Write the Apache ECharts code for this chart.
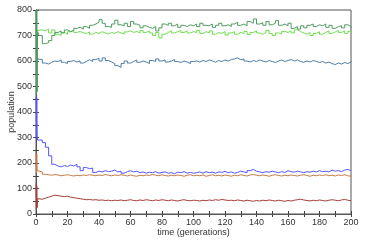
<!DOCTYPE html>
<html><head><meta charset="utf-8">
<script src="https://cdn.jsdelivr.net/npm/echarts@6/dist/echarts.min.js"></script>
<style>html,body{margin:0;padding:0;background:#fff}#c{width:374px;height:242px}</style>
</head><body><div id="c"></div>
<script>
// time points within the first generation (rapid initial oscillation)
var earlyT = [0, 0.25, 0.5, 0.75, 1];
// generations 2..200 in steps of 2 for the main traces
var gens = [];
for (var g = 2; g <= 200; g += 2) gens.push(g);

var seriesNames = ['dark green', 'light green', 'steel blue', 'blue', 'orange', 'red'];
var seriesColors = ['#4f9c62', '#6ee04e', '#4d7ea8', '#5555ff', '#c77a45', '#a83c3c'];

var earlyDarkGreen = [800, 470, 800, 480, 715];
var earlyLightGreen = [700, 710, 715, 720, 722];
var earlySteelBlue = [600, 605, 600, 608, 605];
var earlyBlue = [460, 300, 455, 310, 290];
var earlyOrange = [240, 160, 235, 170, 168];
var earlyRed = [120, 20, 110, 25, 60];

var darkGreen = [700,668,672,680,700,712,718,710,722,715,720,728,732,725,735,728,740,745,752,762,748,735,732,745,760,742,738,748,735,755,745,740,730,738,732,728,735,718,730,745,740,748,738,745,732,740,735,742,738,
745,735,748,740,738,745,732,740,748,738,742,735,745,752,740,745,738,755,748,765,745,750,740,755,742,748,758,740,745,738,748,728,735,725,738,730,740,745,735,742,738,745,732,740,728,735,738,730,742,735,728];
var lightGreen = [722,718,725,710,722,705,700,712,705,715,720,712,716,710,708,714,705,712,708,715,710,706,712,708,715,710,705,714,718,712,716,710,720,712,718,710,700,712,690,705,712,718,710,715,720,712,718,710,715,
712,720,708,715,710,718,705,712,708,715,702,710,715,705,712,708,716,704,712,718,710,705,712,720,708,700,710,706,716,712,718,710,722,715,710,705,712,700,708,715,705,712,718,708,714,720,712,718,708,716,710];
var steelBlue = [605,592,588,595,600,598,604,595,590,598,602,596,600,592,598,605,598,606,610,600,612,602,596,590,582,575,590,600,592,598,604,595,600,596,590,602,598,608,600,604,596,600,606,598,594,600,596,590,598,
600,596,602,598,604,600,595,602,598,604,600,606,608,612,605,608,600,596,602,598,604,600,596,602,598,594,600,604,598,602,606,600,604,598,595,600,596,602,598,594,598,592,596,590,586,592,588,594,590,596,600];
var blue = [290,280,262,228,195,188,185,190,186,192,188,195,185,170,182,178,180,163,168,165,170,166,168,172,165,168,160,166,170,165,168,162,165,160,164,162,166,160,163,165,160,162,158,164,162,166,160,163,160,
162,165,160,166,162,164,160,165,163,167,162,165,160,163,168,165,162,170,175,168,165,162,166,164,168,165,162,166,163,170,166,164,168,165,162,166,164,168,165,170,166,168,165,172,168,170,166,172,175,170,168];
var orange = [165,156,154,152,155,153,150,152,154,151,149,152,150,153,151,154,152,150,153,151,155,152,150,153,151,154,152,149,153,150,148,152,150,153,151,155,152,150,154,151,149,152,150,153,151,148,152,154,150,
152,150,153,148,151,154,150,152,149,153,151,148,152,150,154,151,149,153,155,152,150,153,151,148,152,154,151,149,152,150,153,151,149,152,154,151,148,152,150,153,151,154,150,152,149,153,151,154,150,148,151];
var red = [58,62,66,70,74,72,70,68,70,66,64,62,60,58,56,57,55,56,54,55,53,54,52,54,53,55,52,54,56,53,52,55,53,56,54,52,55,53,56,54,52,55,53,51,54,56,53,52,54,
53,51,54,52,55,53,56,54,57,55,53,54,52,55,53,51,54,52,50,53,51,54,52,55,53,51,54,52,50,53,51,54,56,58,55,53,51,54,52,55,53,51,54,56,54,52,55,57,54,52,53];

var xTicks = [0, 20, 40, 60, 80, 100, 120, 140, 160, 180, 200];
var yTicks = [0, 100, 200, 300, 400, 500, 600, 700, 800];

function pairs(early, main) {
  var out = [];
  for (var i = 0; i < earlyT.length; i++) out.push([earlyT[i], early[i]]);
  for (var j = 0; j < gens.length; j++) out.push([gens[j], main[j]]);
  return out;
}
var allEarly = [earlyDarkGreen, earlyLightGreen, earlySteelBlue, earlyBlue, earlyOrange, earlyRed];
var allMain = [darkGreen, lightGreen, steelBlue, blue, orange, red];

var font = 'Liberation Sans';
var chart = echarts.init(document.getElementById('c'), null, {renderer: 'canvas'});
var tickStyle = {inside: true, length: 3, lineStyle: {color: '#444'}};
var lineStyle = {color: '#555', width: 1};
chart.setOption({
  animation: false,
  backgroundColor: '#fff',
  grid: {left: 36, right: 23, top: 10, bottom: 28, show: true, borderColor: '#555', borderWidth: 1,
         containLabel: false, outerBoundsMode: 'none'},
  xAxis: [{
    type: 'value', min: 0, max: 200, interval: 10,
    name: 'time (generations)', nameLocation: 'middle', nameGap: 14, nameMoveOverlap: false,
    nameTextStyle: {fontFamily: font, fontSize: 9, color: '#333'},
    axisLine: {show: true, lineStyle: lineStyle}, axisTick: tickStyle, splitLine: {show: false},
    axisLabel: {fontFamily: font, fontSize: 9, color: '#333', margin: 4,
      formatter: function (v) { return xTicks.indexOf(v) >= 0 ? String(v) : ''; }}
  }, {
    type: 'value', min: 0, max: 200, interval: 10, position: 'top',
    axisLine: {show: true, lineStyle: lineStyle}, axisTick: tickStyle, splitLine: {show: false}, axisLabel: {show: false}
  }],
  yAxis: [{
    type: 'value', min: 0, max: 800, interval: 50,
    name: 'population', nameLocation: 'middle', nameGap: 20, nameRotate: 90, nameMoveOverlap: false,
    nameTextStyle: {fontFamily: font, fontSize: 9, color: '#333'},
    axisLine: {show: true, lineStyle: lineStyle}, axisTick: tickStyle, splitLine: {show: false},
    axisLabel: {fontFamily: font, fontSize: 9, color: '#333', margin: 4,
      formatter: function (v) { return yTicks.indexOf(v) >= 0 ? String(v) : ''; }}
  }, {
    type: 'value', min: 0, max: 800, interval: 50, position: 'right',
    axisLine: {show: true, lineStyle: lineStyle}, axisTick: tickStyle, splitLine: {show: false}, axisLabel: {show: false}
  }],
  series: seriesNames.map(function (n, i) {
    return {
      name: n, type: 'line', step: 'end', showSymbol: false, symbol: 'none',
      data: pairs(allEarly[i], allMain[i]),
      lineStyle: {color: seriesColors[i], width: 1}, itemStyle: {color: seriesColors[i]},
      z: 2 + (i === 0 ? 6 : i)
    };
  })
});
</script></body></html>
